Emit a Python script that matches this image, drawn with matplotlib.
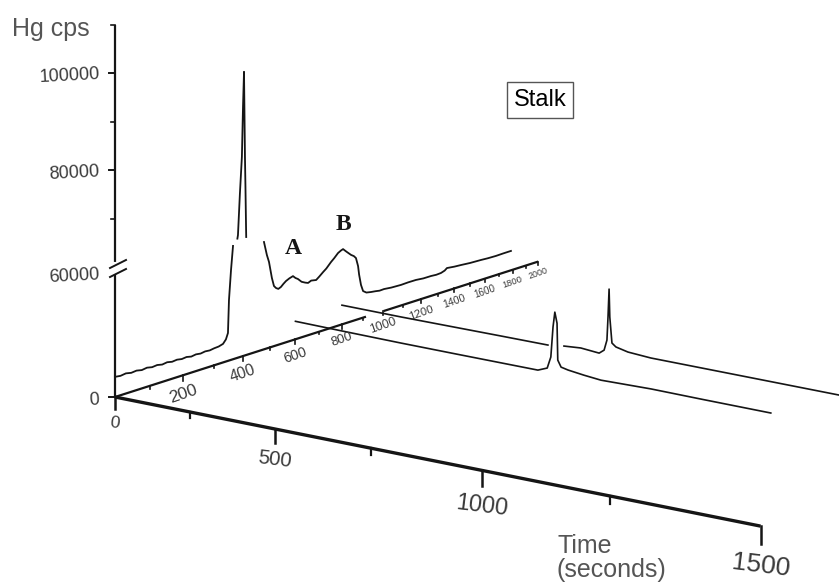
import numpy as np
import matplotlib

matplotlib.use("Agg")
import matplotlib.pyplot as plt

plt.rcParams["font.family"] = ["Liberation Sans", "DejaVu Sans"]

# Cromatograma principal (Stalk): corre a lo largo del eje de profundidad
main_time = [0, 15, 30, 45, 60, 75, 90, 105, 120, 135, 150, 165, 180, 195, 210,
             225, 240, 255, 270, 285, 300, 315, 330, 340, 347, 350.5, 357.6, 364.6,
             372, 380, 382, 389, 396, 400, 403.6, 407, 408.8, 410.8, 411.5, 440,
             477, 488, 496, 507, 515, 523, 532, 542, 552, 562, 575, 590, 600, 610,
             625, 640, 652, 665, 686, 700, 716, 730, 751, 765, 782, 795, 805, 815,
             823, 842, 855, 865, 875, 880, 889, 899, 915, 938, 960, 980, 1003, 1040,
             1092, 1130, 1173, 1215, 1259, 1290, 1318, 1340, 1354, 1400, 1442, 1500,
             1573, 1620, 1677, 1730, 1786]
main_cps = [9300, 9000, 9400, 8900, 9200, 8700, 9100, 8600, 8900, 8400, 8800, 8300,
            8600, 8200, 8500, 8000, 8400, 8100, 8500, 8300, 8700, 8900, 9600, 11500,
            14500, 31500, 46900, 59300, np.nan, 61200, 62000, 71800, 80300, 92100,
            100400, 80200, 73100, 64100, 61200, np.nan, 58200, 50800, 46800, 37700,
            33000, 31600, 30800, 31500, 32900, 34100, 35100, 35900, 34500, 33600,
            31500, 30500, 29900, 30800, 30400, 32000, 34000, 35600, 38800, 40600,
            43100, 44200, 44800, 43500, 42500, 40200, 39100, 37600, 32400, 27000,
            20400, 16300, 14800, 14300, 14000, 13600, 13800, 13400, 13300, 13600,
            13700, 13300, 13400, 13200, 13500, 14400, 15700, 15200, 15000, 14600,
            14500, 14300, 14300, 14600, 14800]

# Trazas secundarias, paralelas al eje de tiempo frontal
trace2_depth = 600
trace2_time = [0, 200, 411, 600, 843, 869, 879, 885, 890, 896, 898, 907, 926, 968,
               1012, 1135, 1250, 1396]
trace2_cps = [10100, 9600, 9100, 8800, 8450, 10600, 17200, 34300, 42900, 36900,
              16200, 12600, 11700, 10500, 9500, 9900, 9500, 9100]

trace3_depth = 800
trace3_time = [0, 253, 622, 774, 800, 823, 873, 926, 940, 948, 951, 954, 956, 962,
               973, 1006, 1067, 1299, 1500]
trace3_cps = [11460, 11000, 10750, 10570, np.nan, 11760, 12480, 11460, 13790, 20100,
              34000, 50800, 34200, 18900, 17000, 15300, 14300, 13700, 13100]

# Ejes
cps_major = [0, 80000, 100000]
cps_minor = [70000, 90000, 110000]
cps_labels = ["0", "80000", "100000"]
time_major = [0, 500, 1000, 1500]
time_minor = [250, 750, 1250]
depth_ticks = list(range(100, 2001, 100))
depth_labels = list(range(200, 2001, 200))
depth_segments = [(0, 913), (1000, 2000)]
cps_break = 60000

W, H = 839, 587
X0, Y0 = 115, 397


def largo_frente(t):
    return 0.2837 * t / (1 - 2.272e-4 * t)


def largo_fondo(d):
    return 0.367 * d / (1 + 3.67e-4 * d)


def altura(cps):
    # eje vertical cortado: escala comprimida debajo de 60000
    return np.where(cps <= cps_break, cps * 130 / cps_break,
                    130 + (cps - cps_break) * 48.5 / 10000)


def escala(d):
    return 1 - 0.001 * largo_fondo(d)


def proyectar(t, d, cps):
    """Perspectiva simple: tiempo frontal, profundidad y cps -> pixeles."""
    t, d, cps = np.broadcast_arrays(*(np.asarray(v, dtype=float) for v in (t, d, cps)))
    D = largo_fondo(d)
    s = 1 - 0.001 * D
    A = s * largo_frente(t)
    x = X0 + D + A
    y = Y0 - 0.32 * D + (0.2 - 6e-5 * D) * A - s * altura(cps)
    return x, y


fig = plt.figure(figsize=(W / 100, H / 100), dpi=100)
ax = fig.add_axes([0, 0, 1, 1])
ax.set_xlim(0, W)
ax.set_ylim(H, 0)
ax.axis("off")

negro = "#151515"
gris = "#3a3a3a"

# eje vertical (cps)
x, y = proyectar(0, 0, [0, 110000])
ax.plot(x, y, color=negro, lw=1.6, solid_capstyle="butt")
for v, lab in zip(cps_major, cps_labels):
    x, y = proyectar(0, 0, v)
    ax.plot([x - 6, x], [y, y], color=negro, lw=1.4)
    ax.text(x - 15, y + 3, lab, ha="right", va="center", fontsize=13,
            rotation=3, color=gris)
for v in cps_minor:
    x, y = proyectar(0, 0, v)
    ax.plot([x - 4, x], [y, y], color=negro, lw=1.2)

# marca de corte del eje
xb, yb = proyectar(0, 0, cps_break)
ax.plot([xb, xb], [yb - 3, yb + 5], color="white", lw=3, zorder=3)
ax.plot([xb - 5, xb + 11], [yb + 1, yb - 7], color=negro, lw=1.4, zorder=4)
ax.plot([xb - 5, xb + 11], [yb + 10, yb + 2], color=negro, lw=1.4, zorder=4)
ax.text(xb - 15, yb + 9, "60000", ha="right", va="center", fontsize=13,
        rotation=3, color=gris)

# eje frontal (tiempo)
x, y = proyectar([0, 1500], 0, 0)
ax.plot(x, y, color=negro, lw=2.4, solid_capstyle="butt")
for t in time_major:
    x, y = proyectar(t, 0, 0)
    f = t / 1500
    ax.plot([x, x], [y, y + 12 + 6 * f], color=negro, lw=1.8)
    ax.text(x, y + 26 + 14 * f, str(t), ha="center", va="center",
            fontsize=12.5 + 6.5 * f, rotation=-7, color=gris)
for t in time_minor:
    x, y = proyectar(t, 0, 0)
    ax.plot([x, x], [y, y + 5 + 3 * t / 1500], color=negro, lw=1.6)

# eje de profundidad
for d0, d1 in depth_segments:
    x, y = proyectar(0, [d0, d1], 0)
    ax.plot(x, y, color=negro, lw=1.6, solid_capstyle="butt")
for d in depth_ticks:
    x, y = proyectar(0, d, 0)
    s = escala(d)
    largo = 6 * s if d % 200 == 0 else 3.5 * s
    ax.plot([x, x], [y, y + largo], color=negro, lw=1.2)
for d in depth_labels:
    x, y = proyectar(0, d, 0)
    ax.text(float(x), float(y + 20 * escala(d)), str(d), ha="center", va="center",
            fontsize=14 / (1 + 0.0006 * d), rotation=19, color=gris)

# trazas
x, y = proyectar(trace3_time, trace3_depth, trace3_cps)
ax.plot(x, y, color=negro, lw=1.2)
x, y = proyectar(trace2_time, trace2_depth, trace2_cps)
ax.plot(x, y, color=negro, lw=1.2)
x, y = proyectar(0, main_time, main_cps)
ax.plot(x, y, color=negro, lw=1.3)

# etiquetas de picos
for lab, d, v, dy in [("A", 590, 35900, 28), ("B", 805, 44800, 25)]:
    x, y = proyectar(0, d, v)
    ax.text(float(x), float(y) - dy, lab, ha="center", va="center", fontsize=17,
            fontweight="bold", family="Liberation Serif", color=negro)

ax.text(12, 36, "Hg cps", ha="left", va="baseline", fontsize=18, color="#555555")
ax.text(557, 558, "Time\n(seconds)", ha="left", va="center", fontsize=18,
        linespacing=1.0, color="#555555")
ax.text(540, 100, "Stalk", ha="center", va="center", fontsize=17, color="black",
        bbox=dict(boxstyle="square,pad=0.28", fc="white", ec="#555555", lw=1))

fig.savefig("out.png", dpi=100)
